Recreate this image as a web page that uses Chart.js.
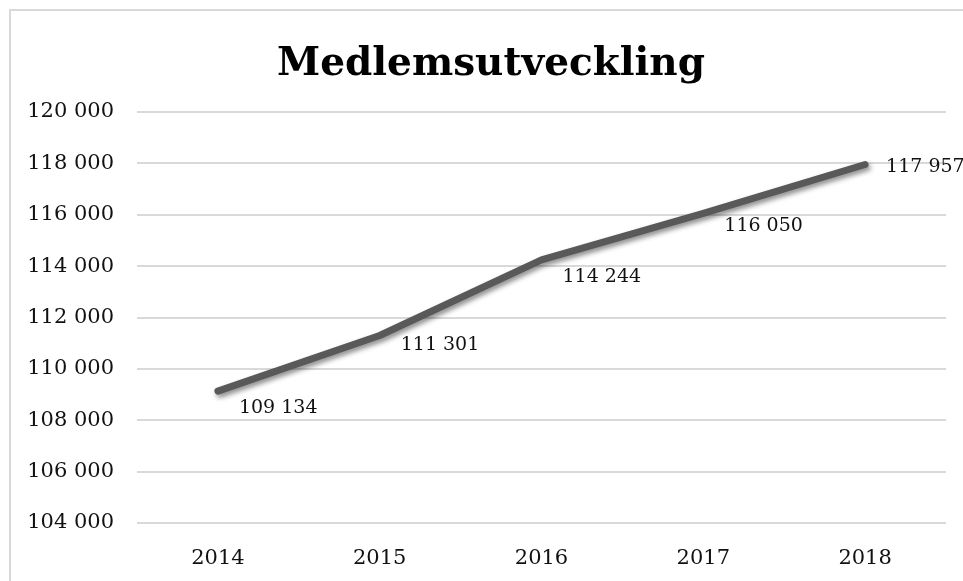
<!DOCTYPE html>
<html>
<head>
<meta charset="utf-8">
<script src="https://cdn.jsdelivr.net/npm/chart.js@4/dist/chart.umd.min.js"></script>
<style>
  html, body { margin: 0; padding: 0; background: #fff; overflow: hidden; }
  #frame { position: absolute; left: 9px; top: 9px; width: 1000px; height: 700px;
           border-left: 2px solid #d9d9d9; border-top: 2px solid #d9d9d9; }
  #wrap { position: absolute; left: 0; top: 0; width: 963px; height: 581px; }
</style>
</head>
<body>
<div id="frame"></div>
<div id="wrap"><canvas id="chart"></canvas></div>
<script>
// Data
const years = ['2014', '2015', '2016', '2017', '2018'];
const members = [109134, 111301, 114244, 116050, 117957];
const yMin = 104000;
const yMax = 120000;
const yStep = 2000;
const chartTitle = 'Medlemsutveckling';

const serif = '"DejaVu Serif", "Liberation Serif", serif';

function fmt(v) {
    return String(v).replace(/\B(?=(\d{3})+(?!\d))/g, ' ');
}

// Rubrik (ritas själv för att kunna centreras som i Excel-ramen)
const titlePlugin = {
    id: 'frameTitle',
    afterDraw(chart) {
        const ctx = chart.ctx;
        ctx.save();
        ctx.font = 'bold 39px ' + serif;
        ctx.fillStyle = '#000';
        ctx.textAlign = 'center';
        ctx.textBaseline = 'alphabetic';
        ctx.fillText(chartTitle, 491, 75);
        ctx.restore();
    }
};

// Skugga under linjen
const shadowPlugin = {
    id: 'lineShadow',
    beforeDatasetsDraw(chart) {
        const ctx = chart.ctx;
        ctx.save();
        ctx.shadowColor = 'rgba(0, 0, 0, 0.45)';
        ctx.shadowBlur = 5;
        ctx.shadowOffsetX = 2;
        ctx.shadowOffsetY = 3;
    },
    afterDatasetsDraw(chart) {
        chart.ctx.restore();
    }
};

// Dataetiketter nedanför/höger om punkterna
const labelPlugin = {
    id: 'valueLabels',
    afterDraw(chart) {
        const ctx = chart.ctx;
        const meta = chart.getDatasetMeta(0);
        const dy = [17, 10, 17, 13, 3];
        ctx.save();
        ctx.font = '19px ' + serif;
        ctx.fillStyle = '#111';
        ctx.textAlign = 'left';
        ctx.textBaseline = 'middle';
        meta.data.forEach((pt, i) => {
            ctx.fillText(fmt(members[i]), pt.x + 21, pt.y + dy[i]);
        });
        ctx.restore();
    }
};

new Chart(document.getElementById('chart'), {
    type: 'line',
    data: {
        labels: years,
        datasets: [{
            data: members,
            borderColor: '#595959',
            borderWidth: 7,
            borderCapStyle: 'round',
            borderJoinStyle: 'round',
            pointRadius: 0,
            pointHoverRadius: 0,
            tension: 0,
            fill: false
        }]
    },
    options: {
        responsive: true,
        maintainAspectRatio: false,
        animation: false,
        layout: { padding: { left: 0, right: 17, top: 112, bottom: 0 } },
        plugins: {
            legend: { display: false },
            tooltip: { enabled: false },
            title: { display: false }
        },
        scales: {
            x: {
                offset: true,
                grid: { display: false, drawTicks: false },
                border: { display: false },
                ticks: {
                    color: '#111',
                    font: { family: serif, size: 21 },
                    padding: 23,
                    maxRotation: 0
                },
                afterFit(s) { s.height = 58; }
            },
            y: {
                min: yMin,
                max: yMax,
                grid: { color: '#d9d9d9', lineWidth: 2, drawTicks: false },
                border: { display: false },
                ticks: {
                    stepSize: yStep,
                    color: '#111',
                    font: { family: serif, size: 21 },
                    padding: 23,
                    callback: v => fmt(v)
                },
                afterFit(s) { s.width = 137; }
            }
        }
    },
    plugins: [shadowPlugin, labelPlugin, titlePlugin]
});
</script>
</body>
</html>
